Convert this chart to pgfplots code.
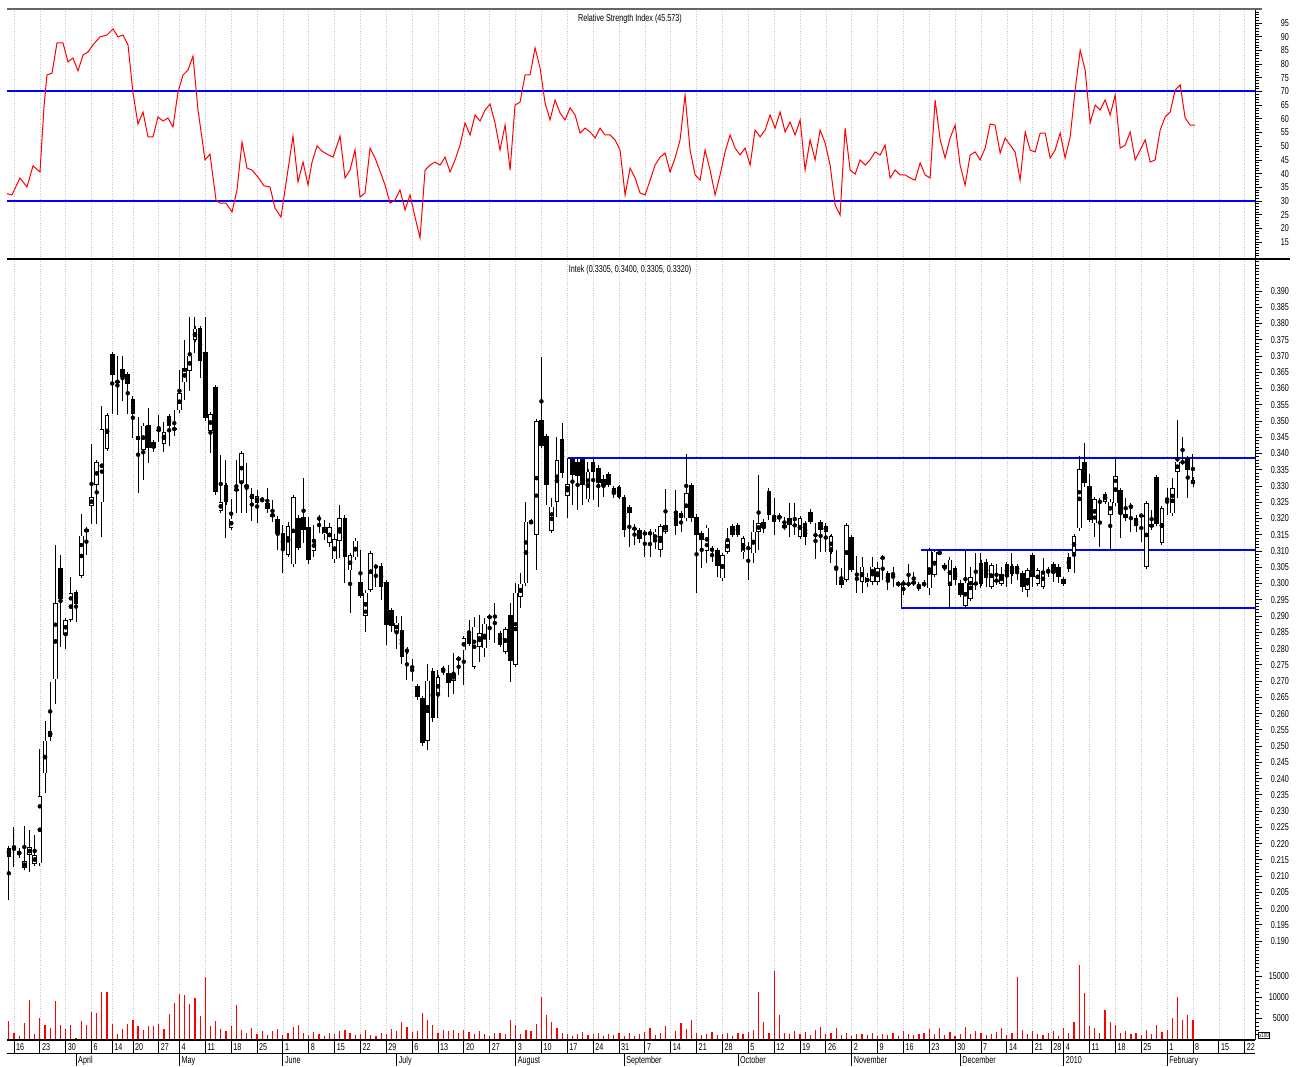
\documentclass[border=0pt]{standalone}
\usepackage{fontspec}
\setmainfont{Liberation Sans}[FakeStretch=0.72]
\usepackage{pgfplots}
\usepackage{pgfplotstable}
\pgfplotsset{compat=1.18}

\pgfplotstableread{
i o h l c
0 0.2186 0.2190 0.2027 0.2160
1 0.2185 0.2251 0.2127 0.2183
2 0.2164 0.2180 0.2160 0.2178
3 0.2125 0.2254 0.2125 0.2145
4 0.2165 0.2242 0.2113 0.2189
5 0.2137 0.2225 0.2130 0.2165
6 0.2139 0.2490 0.2139 0.2346
7 0.2416 0.2576 0.2355 0.2517
8 0.2528 0.2696 0.2517 0.2546
9 0.2705 0.3118 0.2629 0.2939
10 0.3047 0.3088 0.2805 0.2953
11 0.2843 0.2888 0.2800 0.2888
12 0.2888 0.3021 0.2888 0.2970
13 0.2974 0.2976 0.2882 0.2937
14 0.3023 0.3214 0.3023 0.3147
15 0.3167 0.3170 0.3088 0.3160
16 0.3239 0.3430 0.3183 0.3265
17 0.3304 0.3378 0.3183 0.3374
18 0.3250 0.3545 0.3144 0.3475
19 0.3415 0.3525 0.3415 0.3519
20 0.3705 0.3710 0.3521 0.3642
21 0.3622 0.3700 0.3519 0.3620
22 0.3660 0.3701 0.3563 0.3637
23 0.3645 0.3650 0.3521 0.3615
24 0.3569 0.3572 0.3448 0.3522
25 0.3454 0.3513 0.3280 0.3442
26 0.3412 0.3490 0.3318 0.3486
27 0.3489 0.3540 0.3371 0.3418
28 0.3434 0.3436 0.3406 0.3418
29 0.3473 0.3519 0.3437 0.3471
30 0.3430 0.3497 0.3406 0.3466
31 0.3516 0.3519 0.3424 0.3486
32 0.3480 0.3533 0.3454 0.3471
33 0.3533 0.3656 0.3530 0.3586
34 0.3619 0.3749 0.3566 0.3662
35 0.3654 0.3819 0.3592 0.3701
36 0.3749 0.3819 0.3710 0.3784
37 0.3786 0.3790 0.3631 0.3686
38 0.3713 0.3819 0.3501 0.3509
39 0.3469 0.3528 0.3401 0.3522
40 0.3604 0.3608 0.3271 0.3283
41 0.3224 0.3395 0.3218 0.3251
42 0.3303 0.3380 0.3139 0.3250
43 0.3171 0.3259 0.3171 0.3200
44 0.3290 0.3380 0.3218 0.3288
45 0.3309 0.3405 0.3218 0.3401
46 0.3303 0.3372 0.3218 0.3297
47 0.3260 0.3295 0.3191 0.3274
48 0.3248 0.3289 0.3185 0.3268
49 0.3260 0.3263 0.3250 0.3257
50 0.3247 0.3293 0.3216 0.3228
51 0.3206 0.3257 0.3190 0.3214
52 0.3200 0.3203 0.3103 0.3151
53 0.3154 0.3180 0.3031 0.3103
54 0.3089 0.3190 0.3089 0.3177
55 0.3059 0.3265 0.3059 0.3265
56 0.3203 0.3210 0.3103 0.3110
57 0.3206 0.3324 0.3124 0.3165
58 0.3175 0.3206 0.3059 0.3072
59 0.3100 0.3180 0.3083 0.3134
60 0.3203 0.3206 0.3154 0.3197
61 0.3151 0.3195 0.3134 0.3173
62 0.3126 0.3187 0.3113 0.3173
63 0.3075 0.3154 0.3062 0.3137
64 0.3132 0.3242 0.3078 0.3201
65 0.3203 0.3206 0.3003 0.3083
66 0.3041 0.3090 0.2908 0.3087
67 0.3081 0.3135 0.3075 0.3132
68 0.3004 0.3103 0.2960 0.2962
69 0.2900 0.2975 0.2852 0.2972
70 0.2980 0.3093 0.2980 0.3093
71 0.3054 0.3057 0.2990 0.3050
72 0.3055 0.3057 0.2950 0.2990
73 0.3004 0.3006 0.2811 0.2872
74 0.2918 0.2920 0.2852 0.2869
75 0.2852 0.2900 0.2800 0.2880
76 0.2857 0.2900 0.2754 0.2773
77 0.2797 0.2800 0.2703 0.2790
78 0.2745 0.2767 0.2701 0.2740
79 0.2685 0.2688 0.2641 0.2652
80 0.2647 0.2650 0.2500 0.2510
81 0.2516 0.2752 0.2488 0.2701
82 0.2732 0.2734 0.2575 0.2585
83 0.2657 0.2734 0.2585 0.2711
84 0.2739 0.2742 0.2720 0.2732
85 0.2726 0.2749 0.2652 0.2693
86 0.2701 0.2785 0.2660 0.2722
87 0.2770 0.2770 0.2718 0.2767
88 0.2795 0.2831 0.2688 0.2831
89 0.2845 0.2888 0.2811 0.2814
90 0.2744 0.2898 0.2744 0.2867
91 0.2806 0.2903 0.2760 0.2847
92 0.2801 0.2893 0.2775 0.2877
93 0.2900 0.2900 0.2826 0.2893
94 0.2900 0.2941 0.2816 0.2897
95 0.2847 0.2850 0.2811 0.2811
96 0.2790 0.2860 0.2790 0.2859
97 0.2903 0.2939 0.2698 0.2762
98 0.2749 0.3001 0.2749 0.2972
99 0.2960 0.3031 0.2924 0.3000
100 0.3001 0.3252 0.3001 0.3190
101 0.3190 0.3192 0.3185 0.3189
102 0.3149 0.3500 0.3041 0.3500
103 0.3503 0.3698 0.3423 0.3423
104 0.3454 0.3457 0.3241 0.3303
105 0.3162 0.3264 0.3162 0.3236
106 0.3252 0.3452 0.3206 0.3380
107 0.3444 0.3493 0.3324 0.3339
108 0.3269 0.3385 0.3203 0.3306
109 0.3382 0.3385 0.3242 0.3334
110 0.3375 0.3380 0.3227 0.3331
111 0.3382 0.3385 0.3243 0.3303
112 0.3259 0.3375 0.3259 0.3344
113 0.3375 0.3380 0.3257 0.3344
114 0.3354 0.3364 0.3236 0.3308
115 0.3323 0.3334 0.3267 0.3300
116 0.3337 0.3340 0.3300 0.3303
117 0.3293 0.3295 0.3262 0.3276
118 0.3296 0.3300 0.3262 0.3267
119 0.3265 0.3267 0.3144 0.3165
120 0.3234 0.3236 0.3113 0.3216
121 0.3170 0.3183 0.3118 0.3168
122 0.3164 0.3166 0.3124 0.3138
123 0.3158 0.3162 0.3083 0.3150
124 0.3160 0.3160 0.3083 0.3149
125 0.3129 0.3160 0.3105 0.3160
126 0.3103 0.3180 0.3083 0.3177
127 0.3160 0.3292 0.3152 0.3180
129 0.3222 0.3288 0.3149 0.3177
130 0.3201 0.3216 0.3160 0.3216
131 0.3201 0.3400 0.3201 0.3278
132 0.3303 0.3306 0.3190 0.3201
133 0.3206 0.3210 0.2970 0.3149
134 0.3156 0.3160 0.3047 0.3134
135 0.3100 0.3175 0.3062 0.3172
136 0.3108 0.3110 0.3065 0.3100
137 0.3103 0.3110 0.3021 0.3054
138 0.3016 0.3090 0.3016 0.3088
139 0.3098 0.3170 0.3098 0.3132
140 0.3177 0.3180 0.3149 0.3149
141 0.3180 0.3182 0.3149 0.3150
142 0.3096 0.3139 0.3077 0.3139
143 0.3110 0.3129 0.3011 0.3108
144 0.3093 0.3195 0.3062 0.3160
145 0.3160 0.3334 0.3103 0.3185
146 0.3190 0.3192 0.3155 0.3170
147 0.3286 0.3286 0.3195 0.3211
148 0.3206 0.3262 0.3149 0.3190
149 0.3201 0.3216 0.3190 0.3208
150 0.3171 0.3206 0.3170 0.3180
151 0.3180 0.3247 0.3144 0.3201
152 0.3180 0.3247 0.3150 0.3178
153 0.3144 0.3201 0.3144 0.3201
154 0.3185 0.3190 0.3118 0.3144
155 0.3221 0.3226 0.3185 0.3190
156 0.3150 0.3185 0.3077 0.3148
157 0.3190 0.3195 0.3098 0.3164
158 0.3160 0.3185 0.3098 0.3177
159 0.3098 0.3149 0.3062 0.3146
160 0.3050 0.3103 0.2995 0.3041
161 0.3011 0.3047 0.2985 0.2995
162 0.3011 0.3180 0.3011 0.3180
163 0.3142 0.3145 0.3040 0.3042
164 0.3018 0.3085 0.2970 0.3011
165 0.3006 0.3082 0.2970 0.3052
166 0.3001 0.3032 0.2990 0.3021
167 0.3006 0.3082 0.2995 0.3052
168 0.3006 0.3067 0.2995 0.3047
169 0.3080 0.3080 0.3011 0.3078
170 0.3031 0.3037 0.2980 0.3006
171 0.3030 0.3052 0.2990 0.3028
172 0.3000 0.3003 0.2995 0.2998
173 0.3003 0.3003 0.2964 0.2997
174 0.3000 0.3059 0.2995 0.2998
175 0.3000 0.3036 0.2995 0.3006
176 0.2985 0.3006 0.2980 0.2993
177 0.3003 0.3006 0.2990 0.2995
178 0.2985 0.3103 0.2964 0.3101
179 0.3026 0.3101 0.3026 0.3098
180 0.3096 0.3098 0.3090 0.3094
181 0.3057 0.3057 0.3041 0.3047
182 0.2993 0.3074 0.2925 0.3074
183 0.3047 0.3050 0.2995 0.3011
184 0.3003 0.3010 0.2964 0.2965
185 0.2931 0.3100 0.2927 0.3003
186 0.2954 0.3052 0.2950 0.3019
187 0.3001 0.3093 0.2980 0.2999
188 0.3064 0.3095 0.2985 0.3000
189 0.3067 0.3070 0.2990 0.3016
190 0.2990 0.3060 0.2990 0.3057
191 0.3010 0.3059 0.2995 0.3008
192 0.3000 0.3052 0.2995 0.3029
193 0.3059 0.3060 0.2990 0.3021
194 0.3054 0.3093 0.3000 0.3029
195 0.3054 0.3059 0.3011 0.3037
196 0.3033 0.3040 0.2975 0.2990
197 0.2980 0.3041 0.2960 0.3041
198 0.3088 0.3093 0.2990 0.3021
199 0.3000 0.3046 0.2995 0.3041
200 0.2990 0.3078 0.2990 0.3039
201 0.3040 0.3052 0.3021 0.3038
202 0.3059 0.3065 0.3006 0.3033
203 0.3052 0.3055 0.3003 0.3019
204 0.3000 0.3013 0.3000 0.3013
205 0.3083 0.3093 0.3038 0.3044
206 0.3095 0.3146 0.3031 0.3146
207 0.3170 0.3392 0.3170 0.3351
208 0.3375 0.3431 0.3298 0.3310
209 0.3300 0.3338 0.3195 0.3195
210 0.3185 0.3262 0.3144 0.3259
211 0.3254 0.3262 0.3113 0.3249
212 0.3252 0.3280 0.3252 0.3275
213 0.3211 0.3252 0.3103 0.3252
214 0.3247 0.3385 0.3247 0.3331
215 0.3288 0.3293 0.3140 0.3214
216 0.3201 0.3262 0.3201 0.3214
217 0.3231 0.3242 0.3160 0.3242
218 0.3203 0.3206 0.3160 0.3177
219 0.3210 0.3213 0.3129 0.3208
220 0.3052 0.3247 0.3052 0.3247
221 0.3183 0.3226 0.3170 0.3173
222 0.3327 0.3331 0.3183 0.3183
223 0.3126 0.3231 0.3126 0.3231
224 0.3260 0.3293 0.3211 0.3258
225 0.3216 0.3324 0.3216 0.3293
226 0.3344 0.3503 0.3262 0.3375
227 0.3375 0.3452 0.3370 0.3372
228 0.3385 0.3390 0.3262 0.3349
229 0.3305 0.3400 0.3305 0.3320
}\candles

\pgfplotstableread{
i r
-0.74 32.9
0.61 32.2
2.16 38.4
3.51 35.1
4.68 42.8
6.03 40.6
6.80 64.3
7.38 76.0
8.35 76.7
9.32 87.7
10.48 87.7
11.44 80.8
12.41 82.2
13.38 77.5
14.35 83.3
15.31 84.4
16.28 87.0
17.63 89.9
18.99 90.6
20.15 92.8
21.12 89.9
22.08 90.6
23.05 87.0
24.02 69.4
24.98 58.1
25.95 62.5
26.92 53.4
27.89 53.4
28.85 60.7
29.82 59.2
30.79 60.3
31.75 57.0
32.72 69.8
33.69 76.0
34.65 77.8
35.62 82.9
36.59 63.2
37.94 45.0
38.91 47.1
40.07 30.3
40.84 29.2
42.00 29.2
43.17 26.0
44.13 34.0
45.10 51.5
46.07 42.0
47.03 41.3
48.19 38.7
49.36 35.5
50.52 35.1
51.48 27.4
52.64 24.1
53.81 39.1
54.96 53.7
55.93 36.9
56.90 44.2
57.87 35.8
58.64 44.2
59.61 50.1
60.57 48.2
61.54 47.1
62.70 46.0
64.06 53.7
65.02 38.4
65.99 41.3
66.96 48.6
67.92 31.4
68.89 32.9
69.86 49.3
70.82 45.7
71.79 40.9
72.76 35.8
73.73 29.2
74.69 30.3
75.66 34.0
76.63 26.7
77.59 32.2
78.56 24.1
79.53 16.5
80.50 41.3
81.46 43.1
82.43 44.2
83.40 43.1
84.36 46.0
85.33 40.6
86.30 45.0
87.26 50.4
88.23 58.5
89.20 54.1
90.17 61.4
91.13 59.2
92.10 63.2
93.07 65.4
94.03 58.5
95.00 48.6
95.97 57.7
96.94 41.3
97.90 65.0
98.87 66.1
99.84 76.0
100.81 76.0
101.77 85.9
102.74 78.6
103.71 65.8
104.67 59.6
105.64 66.9
106.61 62.1
107.57 59.6
108.54 64.0
109.51 61.4
110.48 54.8
111.44 56.6
112.41 55.2
113.38 53.0
114.34 56.6
115.31 54.1
116.28 54.1
117.25 52.3
118.21 48.6
119.18 32.2
120.15 42.0
121.11 38.4
122.08 32.9
123.05 32.2
124.02 37.6
124.98 43.1
125.95 46.0
126.92 47.5
127.88 40.6
128.85 45.7
129.82 52.3
130.78 68.7
131.75 48.6
132.72 39.5
133.69 37.6
134.65 48.6
135.62 41.3
136.59 32.2
137.55 39.5
138.52 47.9
139.49 54.1
140.46 49.3
141.42 46.8
142.39 49.3
143.36 43.1
144.32 55.9
145.29 53.4
146.26 55.9
147.22 61.4
148.19 56.6
149.16 62.5
150.13 55.2
151.09 58.8
152.06 54.1
153.03 59.6
153.99 41.3
154.96 52.3
155.93 45.0
156.90 55.9
157.86 51.2
158.83 43.1
159.80 28.5
160.76 24.9
161.73 56.6
162.70 41.3
163.67 39.8
164.63 45.0
165.60 43.1
166.57 45.0
167.53 47.9
168.50 46.8
169.47 50.4
170.43 38.4
171.40 41.3
172.37 39.5
173.34 39.5
174.30 38.4
175.27 37.6
176.24 43.9
177.20 39.5
178.17 38.4
179.14 66.9
180.11 52.3
181.07 45.7
182.04 53.0
183.01 57.7
183.97 43.1
184.94 35.8
185.91 46.8
186.88 47.9
187.84 45.0
188.81 49.3
189.78 58.1
190.74 57.7
191.71 47.5
192.68 53.0
193.65 50.4
194.61 47.9
195.58 37.6
196.55 55.2
197.51 48.6
198.48 47.9
199.45 54.8
200.42 54.8
201.38 45.7
202.35 48.6
203.32 54.8
204.28 45.7
205.25 53.4
206.22 70.5
207.19 85.1
208.15 77.8
209.12 58.5
210.09 65.0
211.05 63.2
212.02 66.9
212.99 61.4
213.96 68.7
214.92 49.3
215.89 50.4
216.86 55.2
217.82 45.0
218.79 48.6
219.76 52.3
220.72 44.2
221.69 45.0
222.66 55.9
223.63 60.7
224.59 62.5
225.56 70.5
226.53 72.4
227.49 60.3
228.46 57.7
229.43 57.7
}\rsi

\pgfplotstableread{
i v
0 4300
1 1400
2 800
3 3900
4 9300
5 1200
6 4900
7 3300
8 2700
9 9000
10 3300
11 2400
12 3300
13 300
14 4300
15 3300
16 6500
17 6300
18 11100
19 11100
20 3500
21 1200
22 2400
23 3500
24 4600
25 3100
26 2100
27 3100
28 3100
29 3600
30 2400
31 5900
32 8600
33 10800
34 10500
35 8400
36 9700
37 5500
38 14800
39 3000
40 4200
41 2500
42 1800
43 3000
44 8100
45 2200
46 1500
47 2600
48 1200
49 2000
50 900
51 1800
52 2300
53 1000
54 1500
55 2800
56 3300
57 1400
58 900
59 1600
60 1200
61 700
62 1400
63 1100
64 2000
65 2200
66 1500
67 900
68 1300
69 2100
70 1000
71 700
72 1500
73 1200
74 2400
75 1800
76 4000
77 2800
78 1600
79 2000
80 6200
81 4500
82 3300
83 1500
84 2100
85 1800
86 2200
87 1400
88 2100
89 1600
90 1300
91 1800
92 1200
93 800
94 1400
95 1500
96 1100
97 4500
98 3300
99 1200
100 2100
101 2000
102 3500
103 10000
104 5700
105 4000
106 2600
107 1500
108 1200
109 800
110 1300
111 1700
112 900
113 1100
114 1500
115 700
116 1200
117 1000
118 1400
119 800
120 1500
121 600
122 1200
123 1600
124 2600
125 1000
126 1500
127 3100
129 1800
130 3800
131 2400
132 4500
133 1500
134 1000
135 1300
136 1700
137 900
138 1200
139 1500
140 700
141 1400
142 1100
143 1600
144 2200
145 11200
146 4000
147 1500
148 16200
149 5700
150 1500
151 1200
152 2000
153 1100
154 1700
155 900
156 2100
157 2900
158 1200
159 1500
160 2700
161 1000
162 1400
163 800
164 1300
165 1100
166 900
167 1500
168 700
169 1200
170 1000
171 1400
172 600
173 1800
174 1100
175 900
176 1300
177 1500
178 2400
179 1200
180 2700
181 1000
182 1600
183 800
184 1300
185 2900
186 1100
187 2000
188 1500
189 900
190 1200
191 1700
192 2600
193 1000
194 1500
195 14750
196 2200
197 1100
198 1800
199 1300
200 1000
201 1500
202 2000
203 800
204 2600
205 1500
206 4000
207 17600
208 11000
209 3000
210 2600
211 1400
212 6900
213 4000
214 3300
215 1500
216 1800
217 1200
218 1500
219 1000
220 2200
221 1100
222 3300
223 1600
224 2100
225 5000
226 10000
227 4500
228 5700
229 4500
}\vol

\pgfplotsset{
  panel/.style={
    scale only axis, width=1248pt, xmin=-0.35, xmax=241,
    axis x line*=bottom, axis y line*=right,
    x axis line style={draw=none},
    y axis line style={black, line width=1pt},
    xtick={1,6,11,16,20,24,29,33,38,43,48,53,58,63,68,73,78,83,88,93,98,103,108,113,118,123,128,133,138,143,148,153,158,163,168,173,178,183,188,193,198,201.6,204,209,214,219,224,229,234,239},
    xticklabels={}, xtick style={draw=none},
    xmajorgrids, major x grid style={black!22, dotted, line width=0.6pt},
    tick align=outside, major tick length=7pt, minor tick length=4pt,
    ytick style={black, line width=0.7pt},
    yticklabel style={anchor=east, inner sep=0pt, xshift=27pt, font=\fontsize{10}{12}\selectfont},
    /pgf/number format/assume math mode=true,
    scaled y ticks=false, clip=true,
  },
  wick/.style={only marks, mark=none, forget plot,
    error bars/.cd, y dir=both, y explicit, error mark=none,
    error bar style={black, line width=1pt}},
  blackbody/.style={only marks, mark=none, forget plot,
    error bars/.cd, y dir=both, y explicit, error mark=-,
    error mark options={black, line width=0.9pt, mark size=2.3pt},
    error bar style={black, line width=4.6pt}},
  whitebody/.style={only marks, mark=none, forget plot,
    error bars/.cd, y dir=both, y explicit, error mark=none,
    error bar style={white, line width=2.8pt}},
  hline/.style={draw={rgb,255:red,0;green,0;blue,255}, line width=2pt, mark=none, forget plot},
}

\begin{document}
\begin{tikzpicture}[x=1pt,y=1pt]
\useasboundingbox (0,0) rectangle (1303,-1066);

% RSI panel
\begin{axis}[panel, at={(7pt,-9pt)}, anchor=north west, height=250pt,
  ymin=8.8, ymax=100.1, ytick={15,20,...,95}, minor ytick={9,10,...,100}]
  \addplot[hline] coordinates {(-0.35,30.0) (241,30.0)};
  \addplot[hline] coordinates {(-0.35,70.0) (241,70.0)};
  \addplot[red, line width=1pt, mark=none] table[x=i, y=r] \rsi;
\end{axis}

% Price panel
\begin{axis}[panel, at={(7pt,-259pt)}, anchor=north west, height=706pt,
  ymin=0.18264, ymax=0.39985,
  ytick={0.190,0.195,0.200,0.205,0.210,0.215,0.220,0.225,0.230,0.235,0.240,0.245,0.250,0.255,0.260,0.265,0.270,0.275,0.280,0.285,0.290,0.295,0.300,0.305,0.310,0.315,0.320,0.325,0.330,0.335,0.340,0.345,0.350,0.355,0.360,0.365,0.370,0.375,0.380,0.385,0.390},
  minor ytick={0.183,0.184,...,0.3995},
  /pgf/number format/fixed, /pgf/number format/fixed zerofill, /pgf/number format/precision=3]
  \addplot[hline] coordinates {(172.6,0.2924) (241,0.2924)};
  \addplot[hline] coordinates {(176.4,0.3103) (241,0.3103)};
  \addplot[hline] coordinates {(108.2,0.3385) (241,0.3385)};
  \addplot[black, line width=1pt, mark=none, forget plot] coordinates {(172.6,0.2924) (172.6,0.3000)};
  % wicks
  \addplot[wick] table[x=i, y expr={(\thisrow{h}+\thisrow{l})/2}, y error expr={(\thisrow{h}-\thisrow{l})/2}] \candles;
  % up candles: black outline then white inside
  \addplot[blackbody] table[x=i, y expr={\thisrow{c}>=\thisrow{o} ? (\thisrow{o}+\thisrow{c})/2 : nan}, y error expr={abs(\thisrow{c}-\thisrow{o})/2}] \candles;
  \addplot[whitebody] table[x=i, y expr={\thisrow{c}>=\thisrow{o} ? (\thisrow{o}+\thisrow{c})/2 : nan}, y error expr={max(abs(\thisrow{c}-\thisrow{o})/2-0.0002,0)}] \candles;
  % down candles: solid black
  \addplot[blackbody] table[x=i, y expr={\thisrow{c}<\thisrow{o} ? (\thisrow{o}+\thisrow{c})/2 : nan}, y error expr={abs(\thisrow{o}-\thisrow{c})/2}] \candles;
\end{axis}

% Volume panel
\begin{axis}[panel, at={(7pt,-965pt)}, anchor=north west, height=75pt,
  ymin=-240, ymax=17612, ytick={5000,10000,15000}, yticklabels={5000,10000,15000},
  minor ytick={1000,2000,...,17000}]
  \addplot[ycomb, red, line width=1.2pt, mark=none] table[x=i, y=v] \vol;
\end{axis}

% Date strip
\begin{axis}[scale only axis, width=1248pt, height=26pt, at={(7pt,-1040pt)}, anchor=north west,
  xmin=-0.35, xmax=241, ymin=0, ymax=1,
  axis x line*=top, axis y line=none,
  x axis line style={black, line width=1.2pt},
  xtick={1,6,11,16,20,24,29,33,38,43,48,53,58,63,68,73,78,83,88,93,98,103,108,113,118,123,128,133,138,143,148,153,158,163,168,173,178,183,188,193,198,201.6,204,209,214,219,224,229,234,239},
  xticklabels={16,23,30,6,14,20,27,4,11,18,25,1,8,15,22,29,6,13,20,27,3,10,17,24,31,7,14,21,28,5,12,19,26,2,9,16,23,30,7,14,21,28,4,11,18,25,1,8,15,22},
  tick align=inside, major tick length=13pt,
  xtick style={black, line width=0.8pt},
  xticklabel style={anchor=north west, inner sep=0pt, xshift=2pt, yshift=-3pt, font=\fontsize{10}{12}\selectfont},
  extra x ticks={13,33,53,75,98,119,141,163,184,204,224},
  extra x tick labels={April,May,June,July,August,September,October,November,December,2010,February},
  extra x tick style={tick style={yshift=-13pt}, xticklabel style={yshift=-13pt}},
  clip=false]
  \draw[black, line width=1pt] (rel axis cs:0,0.5) -- (rel axis cs:1,0.5);
\end{axis}

% frame decorations and titles
\draw[black!60, line width=2pt] (7,-8.5) -- (1262,-8.5);
\draw[black, line width=1.2pt] (7,-259) -- (1290,-259);
\node[draw, line width=0.6pt, inner sep=0.7pt, font=\fontsize{6}{7}\selectfont] at (1264,-1035) {x100};
\node[font=\fontsize{10}{12}\selectfont] at (630,-19) {Relative Strength Index (45.573)};
\node[font=\fontsize{10}{12}\selectfont] at (630,-270) {Intek (0.3305, 0.3400, 0.3305, 0.3320)};
\end{tikzpicture}
\end{document}
